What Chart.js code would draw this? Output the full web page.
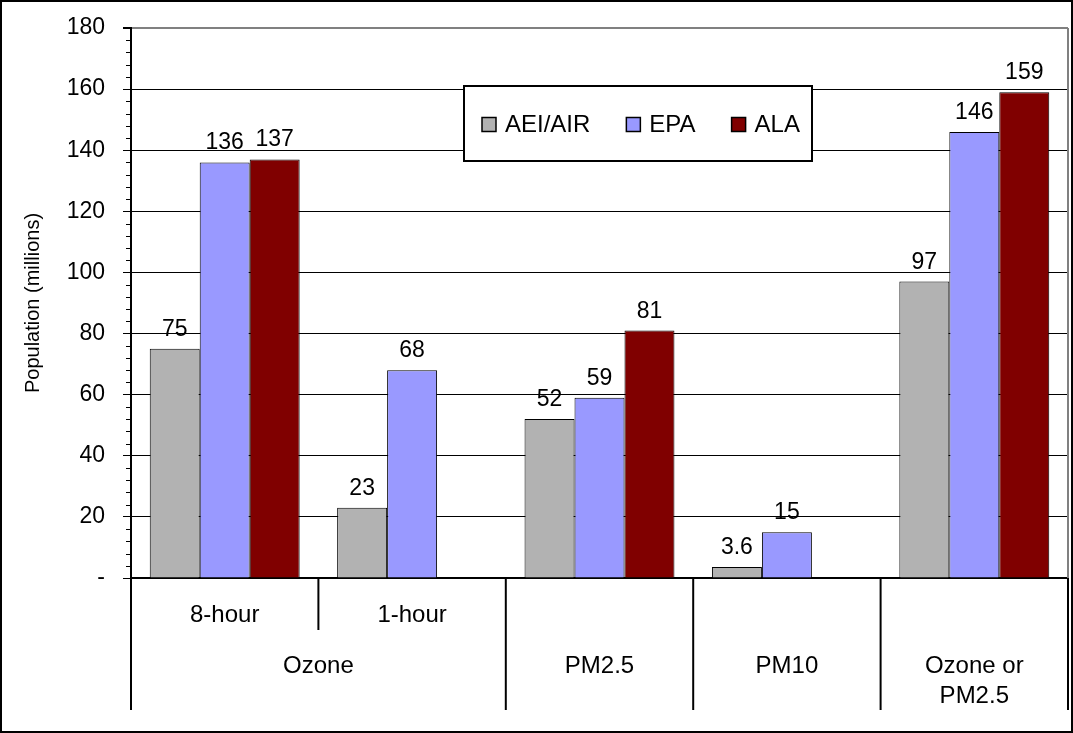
<!DOCTYPE html>
<html>
<head>
<title>Population in nonattainment areas</title>
<script src="https://cdn.jsdelivr.net/npm/chart.js"></script>
<style>
    body { margin: 0; background: #fff; }
    #wrap { width: 1073px; height: 733px; position: relative; }
</style>
</head>
<body>
<div id="wrap"><canvas id="chart"></canvas></div>
<script>
// categories and values
const categories = ['8-hour', '1-hour', 'PM2.5', 'PM10', 'Ozone or PM2.5'];
const subLabels = ['8-hour', '1-hour', '', '', ''];
const groupLabels = [['Ozone'], ['PM2.5'], ['PM10'], ['Ozone or', 'PM2.5']];
const groupSpans = [2, 1, 1, 1];

const aeiAir = [75, 23, 52, 3.6, 97];
const epa = [136, 68, 59, 15, 146];
const ala = [137, null, 81, null, 159];

const yMin = 0, yMax = 180, yStep = 20, yMinorStep = 4;

const FONT = 'Arial, "Liberation Sans", sans-serif';

// labels over the bars
const valueLabels = {
    id: 'valueLabels',
    afterDatasetsDraw(chart) {
        const ctx = chart.ctx;
        ctx.save();
        ctx.font = '23px ' + FONT;
        ctx.fillStyle = '#000';
        ctx.textAlign = 'center';
        ctx.textBaseline = 'alphabetic';
        chart.data.datasets.forEach((ds, di) => {
            const meta = chart.getDatasetMeta(di);
            meta.data.forEach((bar, i) => {
                const v = ds.data[i];
                if (v === null || v === undefined) return;
                ctx.fillText(String(v), bar.x, bar.y - 13);
            });
        });
        ctx.restore();
    }
};

// minor ticks, plot frame, two-level category axis, legend box, outer frame
const decorations = {
    id: 'decorations',
    afterDraw(chart) {
        const ctx = chart.ctx;
        const area = chart.chartArea;
        const y = chart.scales.y;
        const x = chart.scales.x;
        ctx.save();

        // minor ticks on the value axis
        ctx.strokeStyle = '#000';
        ctx.lineWidth = 1;
        for (let v = yMin; v <= yMax; v += yMinorStep) {
            if (v % yStep === 0) continue;
            const py = Math.round(y.getPixelForValue(v)) + 0.5;
            ctx.beginPath();
            ctx.moveTo(area.left - 5, py);
            ctx.lineTo(area.left, py);
            ctx.stroke();
        }

        // gray right edge of the plot
        ctx.strokeStyle = '#808080';
        ctx.lineWidth = 2;
        ctx.beginPath();
        ctx.moveTo(area.right, area.top);
        ctx.lineTo(area.right, area.bottom);
        ctx.stroke();

        // category axis
        const n = categories.length;
        const w = (area.right - area.left) / n;
        const base = area.bottom;
        ctx.strokeStyle = '#000';
        ctx.lineWidth = 2;
        ctx.fillStyle = '#000';
        ctx.font = '24px ' + FONT;
        ctx.textAlign = 'center';
        ctx.textBaseline = 'middle';

        // first row
        subLabels.forEach((lab, i) => {
            if (!lab) return;
            ctx.fillText(lab, x.getPixelForValue(i), base + 37);
        });
        // short dividers inside groups
        let idx = 0;
        groupSpans.forEach(span => {
            for (let k = 1; k < span; k++) {
                const px = area.left + (idx + k) * w;
                ctx.beginPath();
                ctx.moveTo(px, base);
                ctx.lineTo(px, base + 52);
                ctx.stroke();
            }
            idx += span;
        });
        // long dividers and group labels
        idx = 0;
        const edges = [area.left];
        groupSpans.forEach((span, g) => {
            const left = area.left + idx * w;
            const right = area.left + (idx + span) * w;
            edges.push(right);
            const cx = (left + right) / 2;
            groupLabels[g].forEach((line, li) => {
                ctx.fillText(line, cx, base + 88 + li * 30);
            });
            idx += span;
        });
        edges.forEach(px => {
            ctx.beginPath();
            ctx.moveTo(px, base);
            ctx.lineTo(px, base + 132);
            ctx.stroke();
        });

        // legend box
        const lb = { left: 464, top: 86, width: 348, height: 75 };
        ctx.fillStyle = '#fff';
        ctx.fillRect(lb.left, lb.top, lb.width, lb.height);
        ctx.strokeStyle = '#000';
        ctx.lineWidth = 2;
        ctx.strokeRect(lb.left, lb.top, lb.width, lb.height);
        let lx = lb.left + 18;
        const ly = lb.top + lb.height / 2 + 1;
        ctx.textAlign = 'left';
        ctx.font = '24px ' + FONT;
        chart.data.datasets.forEach(ds => {
            ctx.fillStyle = ds.backgroundColor;
            ctx.fillRect(lx, ly - 7, 14, 14);
            ctx.lineWidth = 1.5;
            ctx.strokeStyle = '#000';
            ctx.strokeRect(lx, ly - 7, 14, 14);
            ctx.fillStyle = '#000';
            ctx.fillText(ds.label, lx + 23, ly + 1);
            lx += 23 + ctx.measureText(ds.label).width + 36;
        });

        // outer frame
        ctx.lineWidth = 2;
        ctx.strokeStyle = '#000';
        ctx.strokeRect(1, 1, chart.width - 2, chart.height - 2);
        ctx.restore();
    }
};

const ctx = document.getElementById('chart').getContext('2d');
new Chart(ctx, {
    type: 'bar',
    data: {
        labels: categories,
        datasets: [
            { label: 'AEI/AIR', data: aeiAir, backgroundColor: '#b2b2b2' },
            { label: 'EPA', data: epa, backgroundColor: '#9999ff' },
            { label: 'ALA', data: ala, backgroundColor: '#800000' }
        ]
    },
    options: {
        responsive: true,
        maintainAspectRatio: false,
        animation: false,
        layout: { padding: { top: 28, right: 5, bottom: 22, left: 0 } },
        datasets: {
            bar: {
                categoryPercentage: 0.8,
                barPercentage: 1.0,
                borderColor: '#000',
                borderWidth: 1
            }
        },
        plugins: {
            legend: { display: false },
            tooltip: { enabled: false }
        },
        scales: {
            x: {
                grid: { display: false },
                ticks: { display: false },
                border: { color: '#000', width: 2 },
                afterFit(scale) { scale.height = 133; }
            },
            y: {
                min: yMin,
                max: yMax,
                ticks: {
                    stepSize: yStep,
                    color: '#000',
                    padding: 18,
                    font: { family: FONT, size: 23 },
                    callback: v => v === 0 ? '-' : v
                },
                grid: {
                    color: c => c.tick && c.tick.value === yMax ? '#808080' : '#000',
                    lineWidth: c => c.tick && c.tick.value === yMax ? 2 : 1,
                    tickColor: '#000',
                    tickLength: 8
                },
                border: { color: '#000', width: 2 },
                title: {
                    display: true,
                    text: 'Population (millions)',
                    color: '#000',
                    font: { family: FONT, size: 20 },
                    padding: { top: 21 }
                },
                afterFit(scale) {
                    scale.width = 131;
                    scale.paddingTop = 0;
                    scale.paddingBottom = 0;
                }
            }
        }
    },
    plugins: [valueLabels, decorations]
});
</script>
</body>
</html>
